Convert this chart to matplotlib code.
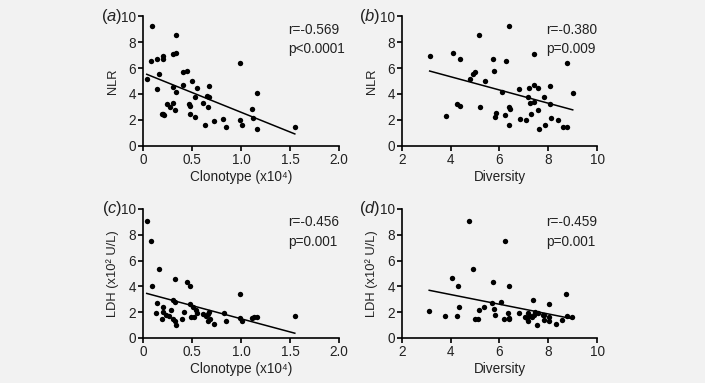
import matplotlib
matplotlib.use('Agg')
import matplotlib.pyplot as plt
import numpy as np

# panel a: clonotype vs NLR
clono_a = [0.095, 0.337, 0.082, 0.146, 0.207, 0.207, 0.31, 0.333, 0.99, 0.037,
           0.167, 0.405, 0.446, 0.14, 0.31, 0.337, 0.41, 0.503, 0.548, 0.53,
           0.65, 0.673, 0.677, 0.24, 0.275, 0.31, 0.327, 0.473, 0.48, 0.615,
           0.667, 0.19, 0.214, 0.207, 0.48, 0.53, 0.633, 0.724, 0.82, 0.847,
           0.99, 1.007, 1.109, 1.119, 1.16, 1.167, 1.548]
nlr_a = [9.26, 8.54, 6.56, 6.67, 6.95, 6.67, 7.05, 7.13, 6.36, 5.15,
         5.54, 5.69, 5.74, 4.36, 4.5, 4.13, 4.72, 5.03, 4.46, 3.74,
         3.85, 3.74, 4.62, 3.2, 3.03, 3.33, 2.77, 3.2, 3.08, 3.28,
         2.97, 2.44, 2.36, 2.46, 2.44, 2.23, 1.59, 1.92, 2.05, 1.44,
         1.97, 1.59, 2.82, 2.15, 4.1, 1.28, 1.44]

# panel b: diversity vs NLR
div_b = [6.40, 5.16, 4.11, 4.38, 5.74, 6.26, 7.40, 8.77, 5.78, 5.01,
         4.93, 4.78, 5.41, 6.12, 6.79, 7.22, 7.42, 7.56, 8.07, 9.0,
         7.15, 7.26, 7.40, 7.84, 8.07, 4.27, 4.37, 5.21, 3.82, 5.85,
         5.82, 6.22, 6.37, 6.42, 6.82, 7.07, 7.29, 7.58, 6.40, 7.60,
         7.86, 8.12, 8.40, 8.62, 8.78, 3.14]
nlr_b = [9.26, 8.51, 7.13, 6.67, 6.67, 6.56, 7.05, 6.36, 5.74, 5.67,
         5.54, 5.18, 5.03, 4.15, 4.36, 4.49, 4.72, 4.46, 4.62, 4.1,
         3.74, 3.31, 3.36, 3.79, 3.2, 3.2, 3.08, 3.03, 2.33, 2.51,
         2.26, 2.41, 2.97, 2.82, 2.05, 1.97, 2.46, 2.77, 1.59, 1.28,
         1.59, 2.15, 1.97, 1.44, 1.44, 6.92]

# panel c: clonotype vs LDH
clono_c = [0.037, 0.082, 0.167, 0.088, 0.33, 0.446, 0.483, 0.99, 1.548, 0.31,
           0.33, 0.48, 0.514, 0.537, 0.14, 0.2, 0.207, 0.136, 0.194, 0.231,
           0.286, 0.31, 0.327, 0.333, 0.40, 0.415, 0.486, 0.524, 0.554, 0.616,
           0.64, 0.667, 0.667, 0.677, 0.724, 0.827, 0.847, 0.99, 1.007, 1.109,
           1.136, 1.16, 0.684, 0.26]
ldh_c = [9.1, 7.55, 5.32, 4.0, 4.6, 4.34, 4.03, 3.44, 1.73, 2.97,
         2.79, 2.64, 2.38, 2.17, 2.69, 2.43, 2.04, 1.96, 1.45, 1.78,
         2.17, 1.5, 1.34, 0.98, 1.5, 2.02, 1.63, 1.65, 1.91, 1.89,
         1.71, 1.83, 1.34, 2.02, 1.09, 1.91, 1.34, 1.58, 1.32, 1.55,
         1.6, 1.65, 1.5, 1.7]

# panel d: diversity vs LDH
div_d = [4.75, 6.22, 4.92, 4.07, 4.32, 5.74, 6.37, 7.38, 8.74, 8.04,
         5.71, 6.08, 4.34, 5.38, 5.16, 5.78, 6.33, 6.78, 7.18, 7.45,
         7.56, 3.78, 4.25, 5.0, 5.12, 5.81, 6.18, 6.37, 6.40, 7.04,
         7.12, 7.18, 7.26, 7.32, 7.40, 7.53, 7.77, 7.81, 8.04, 8.04,
         8.33, 8.55, 8.77, 8.97, 7.81, 3.12]
ldh_d = [9.1, 7.55, 5.32, 4.63, 4.03, 4.37, 4.0, 2.97, 3.44, 2.64,
         2.69, 2.79, 2.43, 2.43, 2.17, 2.22, 1.96, 1.96, 1.91, 2.02,
         1.91, 1.7, 1.7, 1.5, 1.45, 1.76, 1.45, 1.55, 1.47, 1.6,
         1.52, 1.34, 1.7, 1.6, 1.78, 0.98, 1.78, 1.4, 1.65, 1.34,
         1.09, 1.4, 1.73, 1.6, 1.81, 2.07]

panel_labels = ['a', 'b', 'c', 'd']
r_texts = ['r=-0.569', 'r=-0.380', 'r=-0.456', 'r=-0.459']
p_texts = ['p<0.0001', 'p=0.009', 'p=0.001', 'p=0.001']

BG = '#f2f2f2'
INK = '#222222'
FS = 9.8

plt.rcParams['font.family'] = ['Liberation Sans', 'DejaVu Sans']
plt.rcParams['mathtext.fontset'] = 'custom'
plt.rcParams['mathtext.rm'] = 'Liberation Sans'
plt.rcParams['mathtext.it'] = 'Liberation Sans:italic'
plt.rcParams['mathtext.default'] = 'regular'

fig = plt.figure(figsize=(7.05, 3.83), dpi=100, facecolor=BG)

boxes = [[0.203, 0.619, 0.278, 0.339],
         [0.570, 0.619, 0.277, 0.339],
         [0.203, 0.1175, 0.278, 0.337],
         [0.570, 0.1175, 0.277, 0.337]]
xs = [clono_a, div_b, clono_c, div_d]
ys = [nlr_a, nlr_b, ldh_c, ldh_d]
xlabels = ['Clonotype (x10\u2074)', 'Diversity', 'Clonotype (x10\u2074)', 'Diversity']
ylabels = ['NLR', 'NLR', 'LDH (x10\u00b2 U/L)', 'LDH (x10\u00b2 U/L)']
xlims = [(0, 2), (2, 10), (0, 2), (2, 10)]
xticks = [[0, 0.5, 1.0, 1.5, 2.0], [2, 4, 6, 8, 10], [0, 0.5, 1.0, 1.5, 2.0], [2, 4, 6, 8, 10]]
xticklabels = [['0', '0.5', '1.0', '1.5', '2.0'], ['2', '4', '6', '8', '10'],
               ['0', '0.5', '1.0', '1.5', '2.0'], ['2', '4', '6', '8', '10']]

for i in range(4):
    ax = fig.add_axes(boxes[i])
    ax.set_facecolor(BG)
    x = np.array(xs[i])
    y = np.array(ys[i])
    ax.scatter(x, y, s=15, color='black', zorder=3, linewidths=0)
    # linear fit
    k, b = np.polyfit(x, y, 1)
    xf = np.array([x.min(), x.max()])
    ax.plot(xf, k * xf + b, color='black', lw=1.1)

    ax.set_xlim(*xlims[i])
    ax.set_ylim(0, 10)
    ax.set_xticks(xticks[i])
    ax.set_xticklabels(xticklabels[i])
    ax.set_yticks([0, 2, 4, 6, 8, 10])
    for s in ['top', 'right']:
        ax.spines[s].set_visible(False)
    for s in ['left', 'bottom']:
        ax.spines[s].set_linewidth(1.2)
        ax.spines[s].set_color('black')
    ax.tick_params(direction='out', length=3.5, width=1.2, color='black',
                   labelcolor=INK, labelsize=FS, pad=1.5)
    ax.set_xlabel(xlabels[i], color=INK, fontsize=FS, labelpad=2)
    ax.set_ylabel(ylabels[i], color=INK, fontsize=9.3, labelpad=1.5)

    ax.text(0.74, 0.895, r_texts[i], transform=ax.transAxes, ha='left', va='center',
            color=INK, fontsize=FS)
    ax.text(0.74, 0.745, p_texts[i], transform=ax.transAxes, ha='left', va='center',
            color=INK, fontsize=FS)
    ax.text(-0.108, 1.0, '($\\mathit{' + panel_labels[i] + '}$)', transform=ax.transAxes,
            ha='right', va='center', color=INK, fontsize=12)

fig.savefig('out.png', dpi=100, facecolor=BG)
